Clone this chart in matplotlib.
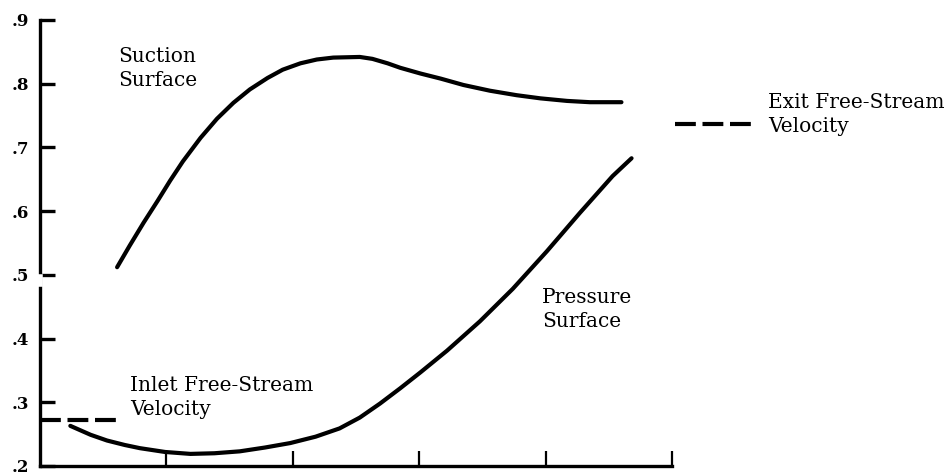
import matplotlib.pyplot as plt
import numpy as np

# suction surface velocity distribution
suct_x = [0.61, 0.71, 0.82, 0.93, 1.03, 1.13, 1.27, 1.40, 1.53, 1.66, 1.80, 1.92, 2.06, 2.19,
          2.32, 2.53, 2.63, 2.75, 2.85, 3.01, 3.17, 3.35, 3.56, 3.77, 3.96, 4.17, 4.35, 4.60]
suct_y = [0.512, 0.546, 0.582, 0.616, 0.648, 0.678, 0.715, 0.745, 0.770, 0.791, 0.809, 0.822,
          0.832, 0.838, 0.841, 0.842, 0.839, 0.832, 0.825, 0.816, 0.808, 0.798, 0.789, 0.782,
          0.777, 0.773, 0.771, 0.771]

# pressure surface velocity distribution
pres_x = [0.24, 0.40, 0.53, 0.67, 0.79, 0.99, 1.19, 1.38, 1.58, 1.78, 1.98, 2.18, 2.37, 2.53,
          2.69, 2.85, 3.01, 3.22, 3.48, 3.74, 4.01, 4.27, 4.53, 4.68]
pres_y = [0.263, 0.249, 0.240, 0.233, 0.228, 0.222, 0.219, 0.220, 0.223, 0.229, 0.236, 0.246,
          0.259, 0.276, 0.298, 0.322, 0.347, 0.381, 0.427, 0.478, 0.537, 0.597, 0.655, 0.683]

# free-stream levels
inlet_v = 0.272
inlet_x = [0.0, 0.62]
exit_v = 0.7375
exit_x = [5.02, 5.64]

yticks = [0.2, 0.3, 0.4, 0.5, 0.6, 0.7, 0.8, 0.9]
ylabels = ['.2', '.3', '.4', '.5', '.6', '.7', '.8', '.9']
xticks = [1, 2, 3, 4, 5]

fig = plt.figure(figsize=(9.53, 4.75), dpi=100)
ax = fig.add_axes([40/953, 9/475, 632/953, 446/475])
ax.set_xlim(0, 5)
ax.set_ylim(0.2, 0.9)

lw = 3.0
line_kw = dict(color='black', lw=lw, solid_capstyle='round', solid_joinstyle='round')
ax.plot(suct_x, suct_y, **line_kw)
ax.plot(pres_x, pres_y, **line_kw)
ax.plot(inlet_x, [inlet_v, inlet_v], color='black', lw=lw, dashes=(5, 1.6), clip_on=False)
ax.plot(exit_x, [exit_v, exit_v], color='black', lw=lw, dashes=(5, 1.6), clip_on=False)

for s in ['top', 'right']:
    ax.spines[s].set_visible(False)
for s in ['left', 'bottom']:
    ax.spines[s].set_linewidth(2.4)
# small break in the vertical axis just under .5
ax.plot([0, 0], [0.486, 0.497], color='white', lw=4, clip_on=False, zorder=5)

ax.set_yticks(yticks)
ax.set_yticklabels(ylabels, family='DejaVu Serif', fontsize=12, fontweight='bold')
ax.set_xticks(xticks)
ax.set_xticklabels([])
ax.tick_params(axis='y', direction='in', length=11, width=2.4, pad=8)
ax.tick_params(axis='x', direction='in', length=11, width=1.6)

tfont = dict(family='DejaVu Serif', fontsize=14.5, va='top', ha='left', linespacing=1.35)
ax.text(0.617, 0.858, 'Suction\nSurface', **tfont)
ax.text(5.76, 0.786, 'Exit Free-Stream\nVelocity', clip_on=False, **tfont)
ax.text(0.712, 0.342, 'Inlet Free-Stream\nVelocity', **tfont)
ax.text(3.97, 0.480, 'Pressure\nSurface', **tfont)

plt.savefig('out.png', dpi=100)
